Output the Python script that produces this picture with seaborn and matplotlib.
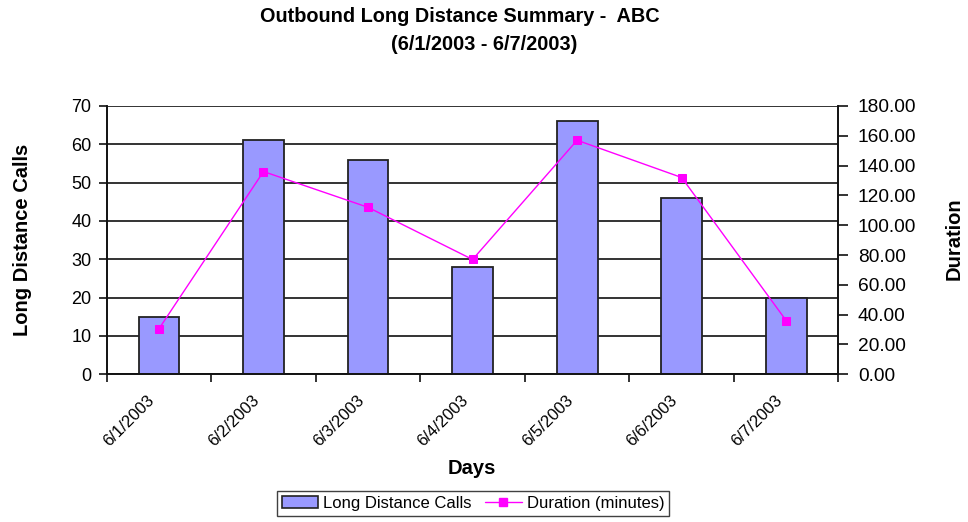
import numpy as np
import pandas as pd
import matplotlib
matplotlib.use("Agg")
import matplotlib.pyplot as plt
from matplotlib.patches import Patch
from matplotlib.lines import Line2D
from matplotlib.transforms import ScaledTranslation
import seaborn as sns

days = ["6/1/2003", "6/2/2003", "6/3/2003", "6/4/2003", "6/5/2003", "6/6/2003", "6/7/2003"]
calls = [15, 61, 56, 28, 66, 46, 20]
duration = [30.5, 136.0, 112.0, 77.0, 157.0, 132.0, 36.0]

left_ticks = [0, 10, 20, 30, 40, 50, 60, 70]
right_ticks = [0, 20, 40, 60, 80, 100, 120, 140, 160, 180]

sns.set_theme(style="white")
plt.rcParams["font.family"] = ["Liberation Sans", "DejaVu Sans"]
plt.rcParams.update({
    "text.color": "black",
    "axes.labelcolor": "black",
    "xtick.color": "black",
    "ytick.color": "black",
})

bar_color = "#9999FF"
line_color = "#FF00FF"
ink = "#111111"

df = pd.DataFrame({"Day": days, "Calls": calls, "Duration": duration})

fig = plt.figure(figsize=(9.68, 5.22), dpi=100)
ax = fig.add_axes([0.1102, 0.283, 0.756, 0.514])

sns.barplot(data=df, x="Day", y="Calls", ax=ax, color=bar_color, width=0.39,
            edgecolor="#222222", linewidth=1.3, saturation=1, zorder=3)

ax2 = ax.twinx()
sns.pointplot(data=df, x="Day", y="Duration", ax=ax2, color=line_color,
              markers="s", linestyles="-", markersize=6, linewidth=1.0,
              zorder=4)

ax.set_xlim(-0.5, 6.5)
ax.set_ylim(0, 70)
ax2.set_ylim(0, 180)
ax.set_yticks(left_ticks)
ax.set_yticklabels([str(t) for t in left_ticks], fontsize=13)
ax2.set_yticks(right_ticks)
ax2.set_yticklabels([f"{t:.2f}" for t in right_ticks], fontsize=13.8)

# horizontal gridlines on the calls axis
for t in left_ticks:
    ax.axhline(t, color=ink, lw=1.2, zorder=1)

# category labels at centres, tick marks on category boundaries
ax.set_xticks(range(len(days)))
ax.set_xticklabels(days, rotation=45, ha="right", va="top",
                   rotation_mode="anchor", fontsize=12)
ax.tick_params(axis="x", which="major", length=0, pad=13)
shift = ScaledTranslation(-12 / 100, 0, fig.dpi_scale_trans)
for lbl in ax.get_xticklabels():
    lbl.set_transform(lbl.get_transform() + shift)
ax.set_xticks(np.arange(-0.5, len(days), 1.0), minor=True)
ax.tick_params(axis="x", which="minor", length=6, width=1.2, color=ink,
               direction="out", bottom=True)
ax.tick_params(axis="y", length=6, width=1.2, color=ink, direction="out",
               left=True, pad=5)
ax2.tick_params(axis="y", length=7, width=1.2, color=ink, direction="out",
                right=True, pad=7)

for a in (ax, ax2):
    a.spines["top"].set_visible(False)
    for side in ("left", "right", "bottom"):
        a.spines[side].set_color(ink)
        a.spines[side].set_linewidth(1.2)

ax.set_xlabel("")
ax.set_ylabel("")
ax2.set_ylabel("")
ax2.set_xlabel("")

fig.text(460 / 968, 1 - 17 / 522, "Outbound Long Distance Summary -  ABC",
         ha="center", va="center", fontsize=14.3, fontweight="bold")
fig.text(484 / 968, 1 - 44 / 522, "(6/1/2003 - 6/7/2003)",
         ha="center", va="center", fontsize=14.3, fontweight="bold")
fig.text(23 / 968, 1 - 240 / 522, "Long Distance Calls", rotation=90,
         ha="center", va="center", fontsize=14.5, fontweight="bold")
fig.text(954 / 968, 1 - 239 / 522, "Duration", rotation=90,
         ha="center", va="center", fontsize=14.5, fontweight="bold")
fig.text(472 / 968, 1 - 469 / 522, "Days",
         ha="center", va="center", fontsize=14.5, fontweight="bold")

handles = [
    Patch(facecolor=bar_color, edgecolor="#222222", linewidth=1.2),
    Line2D([0], [0], color=line_color, lw=1.0, marker="s", markersize=6),
]
leg = fig.legend(handles, ["Long Distance Calls", "Duration (minutes)"],
                 loc="center", bbox_to_anchor=(473 / 968, 1 - 503.5 / 522),
                 ncol=2, frameon=True, fancybox=False, fontsize=12,
                 handlelength=2.2, handletextpad=0.3, columnspacing=0.8,
                 borderpad=0.3)
leg.get_frame().set_edgecolor(ink)
leg.get_frame().set_linewidth(1.0)

fig.savefig("out.png", dpi=100, facecolor="white")
